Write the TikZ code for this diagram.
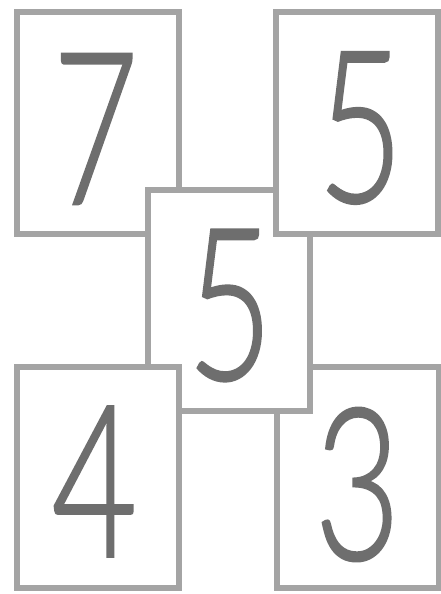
\documentclass[tikz,border=0pt]{standalone}
\usepackage{fontspec}
\usepackage{graphicx}
\IfFontExistsTF{Lato Light}{\newfontfamily\digitfont{Lato Light}[FakeBold=1.2]}{%
 \IfFontExistsTF{Open Sans Light}{\newfontfamily\digitfont{Open Sans Light}[FakeBold=1.2]}{%
  \IfFontExistsTF{Fira Sans Light}{\newfontfamily\digitfont{Fira Sans Light}[FakeBold=1.2]}{%
   \IfFontExistsTF{DejaVu Sans ExtraLight}{\newfontfamily\digitfont{DejaVu Sans ExtraLight}[FakeBold=1.2]}{%
    \newfontfamily\digitfont{Liberation Sans}}}}}
\definecolor{boxgray}{HTML}{A4A4A4}
\definecolor{digitgray}{HTML}{6E6E6E}
\tikzset{
  tile/.style={draw=boxgray, fill=white, line width=6pt, minimum width=162pt, minimum height=221pt, inner sep=0pt},
  digit/.style={text=digitgray, inner sep=0pt, font=\digitfont\fontsize{212}{212}\selectfont}
}
\begin{document}
\begin{tikzpicture}[x=1pt,y=-1pt]
\useasboundingbox[fill=white] (0,0) rectangle (441,594);
% lower layer
\node[tile] (tl) at (97.5,123) {};
\node[digit] (d7) at ([xshift=-2pt,yshift=-6pt]tl.center) {\scalebox{0.7}[1]{7}};
\node[tile] (br) at (357.5,477.5) {};
\node[digit] (d3) at ([yshift=-7pt]br.center) {\scalebox{0.7}[1]{3}};
% middle
\node[tile] (c) at (229,300.5) {};
\node[digit] (dc) at ([xshift=1pt,yshift=-5pt]c.center) {\scalebox{0.7}[1]{5}};
% upper layer
\node[tile] (tr) at (356.5,123) {};
\node[digit] (d5) at ([xshift=4pt,yshift=-5pt]tr.center) {\scalebox{0.7}[1]{5}};
\node[tile] (bl) at (97.5,477.5) {};
\node[digit] (d4) at ([xshift=-3pt,yshift=-4pt]bl.center) {\scalebox{0.7}[1]{4}};
\end{tikzpicture}
\end{document}
